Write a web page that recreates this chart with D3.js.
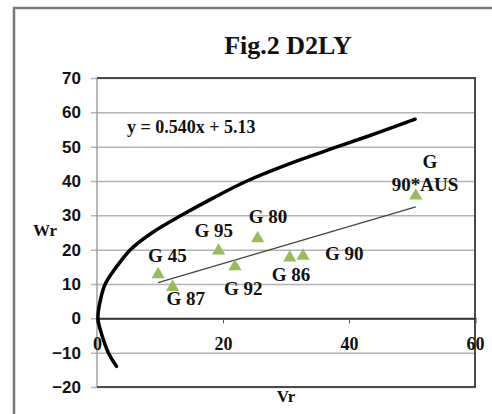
<!DOCTYPE html>
<html>
<head>
<meta charset="utf-8">
<script src="https://cdn.jsdelivr.net/npm/d3@7"></script>
<style>
  html, body { margin: 0; padding: 0; background: #fff; overflow: hidden; }
  svg { display: block; }
</style>
</head>
<body>
<svg id="chart" width="492" height="414"></svg>
<script>
// chart data
var xTicks = [0, 20, 40, 60];
var yTicks = [-20, -10, 0, 10, 20, 30, 40, 50, 60, 70];

var pointNames = ['G 45', 'G 87', 'G 95', 'G 92', 'G 80', 'G 86', 'G 90', 'G 90*AUS'];
var pointVr = [9.7, 12.0, 19.3, 21.9, 25.5, 30.6, 32.7, 50.6];
var pointWr = [12.5, 8.8, 19.4, 14.8, 23.0, 17.4, 17.9, 35.4];

// thick boundary curve (Vr, Wr)
var curveVr = [3.1, 1.8, 0.8, 0.15, 0.5, 1.3, 2.3, 3.5, 5.3, 8.8, 13.4, 18.4, 23.8, 30.5, 38.2, 44.5, 50.5];
var curveWr = [-14, -10, -5, 0, 5, 10, 13, 16, 20, 25, 30, 35, 40, 45, 50, 54, 58];

// linear trend shown on chart
var trendSlope = 0.540;
var trendIntercept = 5.13;
var trendLabel = 'y = 0.540x + 5.13';

var serif = '"Liberation Serif", "Times New Roman", serif';
var sans = '"Liberation Sans", Arial, sans-serif';

var svg = d3.select('#chart');

var x = d3.scaleLinear().domain([0, 60]).range([97, 475]);
var y = d3.scaleLinear().domain([-20, 70]).range([387, 78]);

// outer frame
svg.append('rect')
  .attr('x', 14).attr('y', 8)
  .attr('width', 520).attr('height', 440)
  .attr('fill', '#fff')
  .attr('stroke', '#7a7a7a')
  .attr('stroke-width', 2.5);

// title
svg.append('text')
  .attr('x', 288).attr('y', 54)
  .attr('text-anchor', 'middle')
  .attr('font-family', serif)
  .attr('font-weight', 'bold')
  .attr('font-size', 26)
  .attr('fill', '#111')
  .text('Fig.2 D2LY');

// gridlines
var yAxis = d3.axisLeft(y)
  .tickValues(yTicks)
  .tickSize(-(x(60) - x(0)))
  .tickPadding(16)
  .tickFormat(d3.format('d'));

var gy = svg.append('g')
  .attr('transform', 'translate(' + x(0) + ',0)')
  .call(yAxis);
gy.select('.domain').remove();
gy.selectAll('.tick line')
  .attr('x1', -6)
  .attr('stroke', '#b4b4b4')
  .attr('stroke-width', 1.5);
gy.selectAll('.tick text')
  .attr('font-family', sans)
  .attr('font-weight', 'bold')
  .attr('font-size', 17)
  .attr('fill', '#111');

// plot border
svg.append('line')
  .attr('x1', x(0)).attr('x2', x(0))
  .attr('y1', y(70)).attr('y2', y(-20))
  .attr('stroke', '#a0a0a0').attr('stroke-width', 1.5);
svg.append('path')
  .attr('d', 'M' + x(0) + ',' + y(70) + 'H' + x(60) + 'V' + y(-20) + 'H' + x(0))
  .attr('fill', 'none')
  .attr('stroke', '#4a4a4a')
  .attr('stroke-width', 2);

// x axis along Wr = 0
var xAxis = d3.axisBottom(x)
  .tickValues(xTicks)
  .tickSize(5)
  .tickPadding(14)
  .tickFormat(d3.format('d'));

var gx = svg.append('g')
  .attr('transform', 'translate(0,' + y(0) + ')')
  .call(xAxis);
gx.select('.domain')
  .attr('stroke', '#333')
  .attr('stroke-width', 2);
gx.selectAll('.tick line').attr('stroke', '#555');
gx.selectAll('.tick text')
  .attr('font-family', serif)
  .attr('font-weight', 'bold')
  .attr('font-size', 18)
  .attr('fill', '#111');

// axis titles
svg.append('text')
  .attr('x', 45).attr('y', 236)
  .attr('text-anchor', 'middle')
  .attr('font-family', serif)
  .attr('font-weight', 'bold')
  .attr('font-size', 17)
  .attr('fill', '#111')
  .text('Wr');

svg.append('text')
  .attr('x', 286).attr('y', 402)
  .attr('text-anchor', 'middle')
  .attr('font-family', serif)
  .attr('font-weight', 'bold')
  .attr('font-size', 17)
  .attr('fill', '#111')
  .text('Vr');

// boundary curve
var curvePts = curveVr.map(function(v, i) { return [v, curveWr[i]]; });
var line = d3.line()
  .x(function(d) { return x(d[0]); })
  .y(function(d) { return y(d[1]); })
  .curve(d3.curveCatmullRom.alpha(0.5));

svg.append('path')
  .datum(curvePts)
  .attr('d', line)
  .attr('fill', 'none')
  .attr('stroke', '#000')
  .attr('stroke-width', 3.5)
  .attr('stroke-linecap', 'round');

// trend line
var tx0 = d3.min(pointVr), tx1 = d3.max(pointVr);
svg.append('line')
  .attr('x1', x(tx0)).attr('y1', y(trendSlope * tx0 + trendIntercept))
  .attr('x2', x(tx1)).attr('y2', y(trendSlope * tx1 + trendIntercept))
  .attr('stroke', '#444')
  .attr('stroke-width', 1.3);

svg.append('text')
  .attr('x', 127).attr('y', 133)
  .attr('font-family', serif)
  .attr('font-weight', 'bold')
  .attr('font-size', 18)
  .attr('fill', '#111')
  .text(trendLabel);

// points
var tri = d3.symbol().type(d3.symbolTriangle).size(75);
svg.append('g').selectAll('path')
  .data(pointVr)
  .enter().append('path')
  .attr('d', tri)
  .attr('transform', function(d, i) { return 'translate(' + x(d) + ',' + (y(pointWr[i]) - 1) + ')'; })
  .attr('fill', '#9bbb59');

// point labels: [dx, dy] offsets from the marker
var labelOffsets = [[-10, -13], [-6, 17], [-24, -15], [-11, 27], [-9, -16], [-18, 22], [22, 3], [-24, -6]];

var labels = svg.append('g')
  .attr('font-family', serif)
  .attr('font-weight', 'bold')
  .attr('font-size', 19)
  .attr('fill', '#111');

pointNames.forEach(function(name, i) {
  var px = x(pointVr[i]) + labelOffsets[i][0];
  var py = y(pointWr[i]) + labelOffsets[i][1];
  if (name === 'G 90*AUS') {
    var t = labels.append('text').attr('x', px).attr('y', py);
    t.append('tspan').attr('x', px + 38).attr('y', py - 23).attr('text-anchor', 'middle').text('G');
    t.append('tspan').attr('x', px).attr('y', py).text('90*AUS');
  } else {
    labels.append('text').attr('x', px).attr('y', py).text(name);
  }
});
</script>
</body>
</html>
